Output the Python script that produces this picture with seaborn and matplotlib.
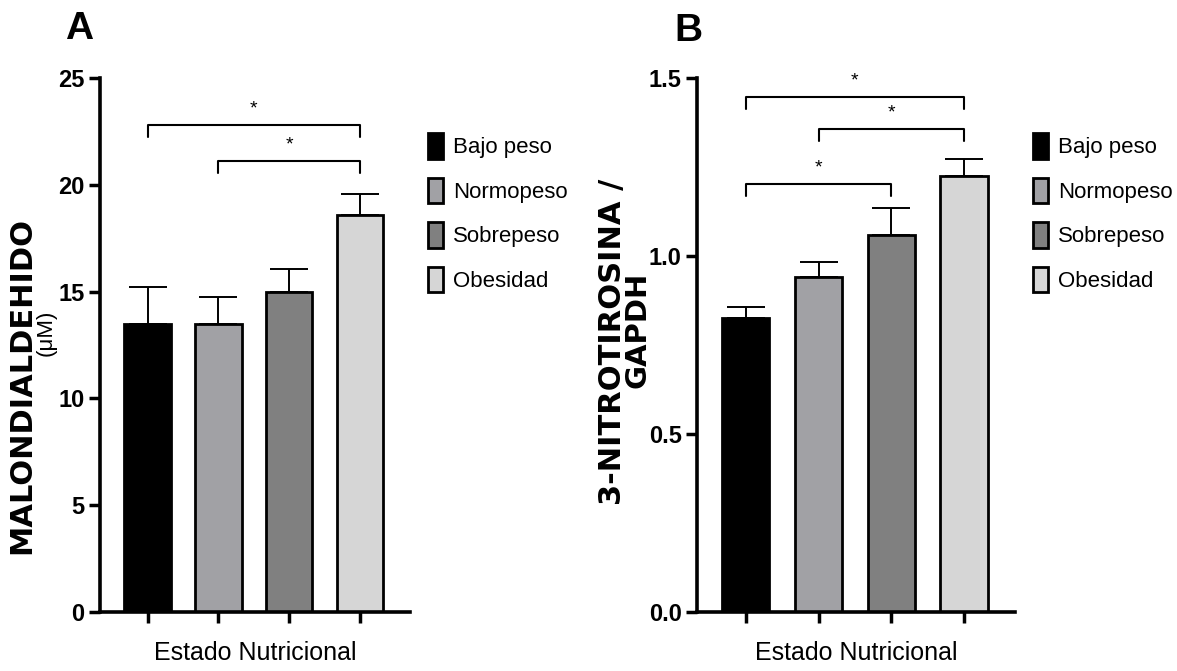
import matplotlib
matplotlib.use("Agg")
import matplotlib.pyplot as plt
import seaborn as sns
import pandas as pd
from matplotlib import font_manager
from matplotlib.patches import Patch

# ---------------- data ----------------
categories = ["Bajo peso", "Normopeso", "Sobrepeso", "Obesidad"]
colors = ["#000000", "#a1a1a5", "#808080", "#d6d6d6"]

mda_mean = [13.5, 13.5, 15.0, 18.6]
mda_sem = [1.7, 1.25, 1.05, 0.95]

nt_mean = [0.826, 0.941, 1.058, 1.226]
nt_sem = [0.031, 0.043, 0.077, 0.047]

# significance brackets: (left index, right index, height)
mda_brackets = [(0, 3, 22.8), (1, 3, 21.1)]
nt_brackets = [(0, 3, 1.446), (1, 3, 1.356), (0, 2, 1.201)]

mda_ticks = [0, 5, 10, 15, 20, 25]
mda_ticklabels = ["0", "5", "10", "15", "20", "25"]
nt_ticks = [0.0, 0.5, 1.0, 1.5]
nt_ticklabels = ["0.0", "0.5", "1.0", "1.5"]

sns.set_theme(style="white")
names = {f.name for f in font_manager.fontManager.ttflist}
arial = "Liberation Sans" if "Liberation Sans" in names else "DejaVu Sans"
plt.rcParams["font.family"] = [arial, "DejaVu Sans"]
for k in ["text.color", "axes.labelcolor", "xtick.color", "ytick.color"]:
    plt.rcParams[k] = "black"

W, H = 1177, 671
fig = plt.figure(figsize=(W / 100, H / 100), dpi=100)
palette = dict(zip(categories, colors))
FAM = [arial, "DejaVu Sans"]


def panel(ax, means, sems, brackets, ylim, ticks, ticklabels, ystar_off, drop):
    df = pd.DataFrame({"cat": categories, "val": means})
    sns.barplot(data=df, x="cat", y="val", hue="cat", palette=palette, order=categories,
                hue_order=categories, dodge=False, legend=False, width=0.65,
                edgecolor="black", linewidth=2.0, errorbar=None, ax=ax, zorder=2)
    ax.errorbar(range(len(categories)), means, yerr=[[0] * len(sems), sems], fmt="none",
                ecolor="black", elinewidth=1.4, capsize=14, capthick=1.4, zorder=1)
    ax.set_ylim(*ylim)
    ax.set_xlim(-0.67, 3.7)
    ax.set_yticks(ticks)
    ax.set_yticklabels(ticklabels, fontsize=17, fontweight="bold", family=FAM)
    ax.set_xticks(range(len(categories)))
    ax.set_xticklabels([])
    ax.tick_params(axis="both", direction="out", length=8, width=2.5, color="black",
                   left=True, bottom=True, pad=3)
    for s in ["top", "right"]:
        ax.spines[s].set_visible(False)
    for s in ["left", "bottom"]:
        ax.spines[s].set_linewidth(2.6)
        ax.spines[s].set_color("black")
    ax.set_xlabel("Estado Nutricional", fontsize=18, family=FAM, labelpad=10)
    ax.set_ylabel("")
    for (i, j, h) in brackets:
        ax.plot([i, i, j, j], [h - drop, h, h, h - drop], color="black", lw=1.5, clip_on=False)
        ax.text((i + j) / 2, h + ystar_off, "*", ha="center", va="center", fontsize=14,
                family=FAM)


axA = fig.add_axes([100 / W, 1 - 612 / H, 310 / W, 534 / H])
panel(axA, mda_mean, mda_sem, mda_brackets, (0, 25), mda_ticks, mda_ticklabels, 0.75, 0.55)
fig.text(79 / W, 1 - 29 / H, "A", fontsize=28, fontweight="bold", family=FAM,
         ha="center", va="center")
fig.text(22 / W, 1 - 385 / H, "MALONDIALDEHIDO", rotation=90, ha="center", va="center",
         fontsize=22, fontweight="bold", family=["DejaVu Sans"])
fig.text(46 / W, 1 - 333 / H, "(μM)", rotation=90, ha="center", va="center",
         fontsize=16, family=FAM)

axB = fig.add_axes([697 / W, 1 - 612 / H, 318 / W, 534 / H])
panel(axB, nt_mean, nt_sem, nt_brackets, (0, 1.5), nt_ticks, nt_ticklabels, 0.045, 0.033)
fig.text(688 / W, 1 - 31 / H, "B", fontsize=28, fontweight="bold", family=FAM,
         ha="center", va="center")
fig.text(612 / W, 1 - 342 / H, "3-NITROTIROSINA /", rotation=90, ha="center", va="center",
         fontsize=22, fontweight="bold", family=["DejaVu Sans"])
fig.text(638 / W, 1 - 330 / H, "GAPDH", rotation=90, ha="center", va="center",
         fontsize=21, fontweight="bold", family=["DejaVu Sans"])

handles = [Patch(facecolor=c, edgecolor="black", linewidth=2.0) for c in colors]
for x0, y0 in [(428 / W, 1 - 133 / H), (1033 / W, 1 - 133 / H)]:
    fig.legend(handles, categories, loc="upper left", bbox_to_anchor=(x0, y0), frameon=False,
               fontsize=16, handlelength=0.68, handleheight=1.4, handletextpad=0.45,
               labelspacing=0.85, borderaxespad=0, borderpad=0)

fig.savefig("out.png", dpi=100)
